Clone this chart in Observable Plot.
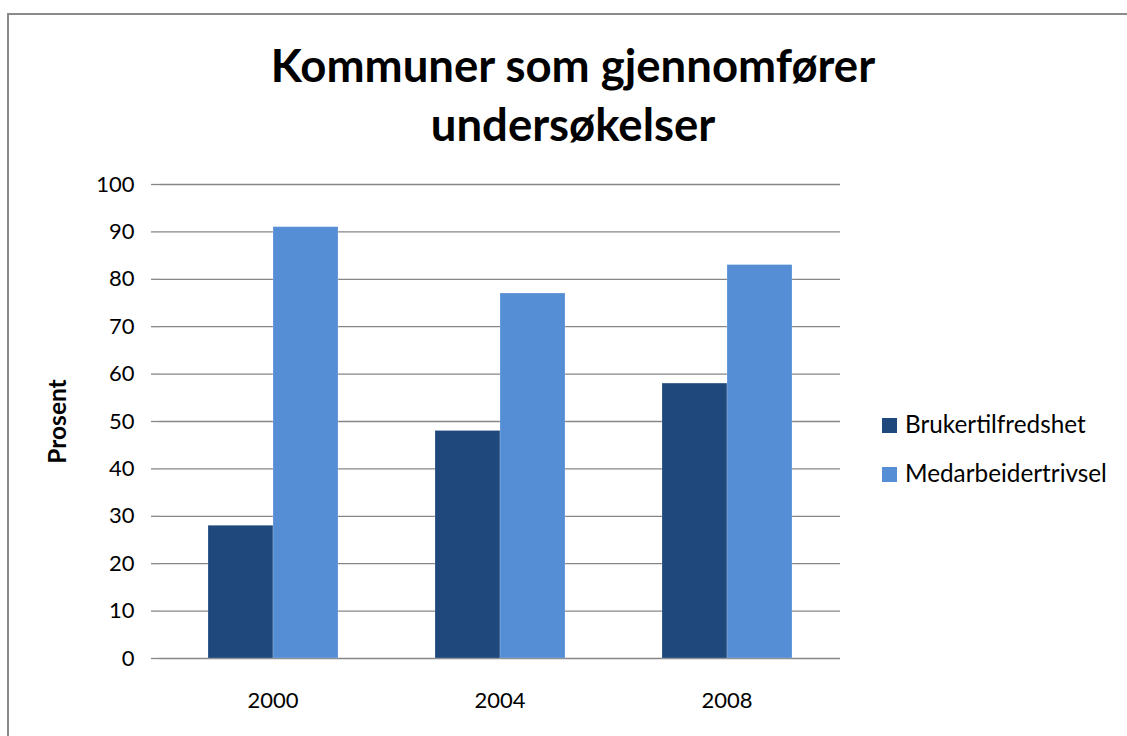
<!DOCTYPE html>
<html>
<head>
<meta charset="utf-8">
<script src="https://cdn.jsdelivr.net/npm/d3@7"></script>
<script src="https://cdn.jsdelivr.net/npm/@observablehq/plot@0.6"></script>
<style>
  html, body { margin: 0; padding: 0; background: #fff; }
  body { width: 1127px; height: 736px; position: relative; overflow: hidden; font-family: "Lato", sans-serif; }
  #frame { position: absolute; left: 7px; top: 13px; width: 1200px; height: 800px; border-left: 2px solid #8a8a8a; border-top: 2px solid #8a8a8a; }
  #title { position: absolute; left: 0; width: 1146px; top: 35px; text-align: center; font-weight: 700; font-size: 45.5px; line-height: 59px; color: #000; }
  #chart { position: absolute; left: 0; top: 160px; }
  #legend { position: absolute; left: 882px; top: 0; }
  .row { position: absolute; left: 0; display: flex; align-items: flex-end; white-space: nowrap; font-size: 24.3px; line-height: 24px; color: #000; }
  .sw { width: 15px; height: 15px; margin-right: 8px; margin-bottom: 3px; }
</style>
</head>
<body>
<div id="frame"></div>
<div id="title">Kommuner som gjennomfører<br>undersøkelser</div>
<div id="chart"></div>
<div id="legend"></div>
<script>
const years = ["2000", "2004", "2008"];
const seriesNames = ["Brukertilfredshet", "Medarbeidertrivsel"];
const brukertilfredshet = [28, 48, 58];
const medarbeidertrivsel = [91, 77, 83];
const yTicks = [0, 10, 20, 30, 40, 50, 60, 70, 80, 90, 100];
const seriesColors = ["#1F497D", "#558ED5"];
const yLabel = "Prosent";

const data = years.flatMap((yr, i) => [
  {year: yr, series: seriesNames[0], value: brukertilfredshet[i]},
  {year: yr, series: seriesNames[1], value: medarbeidertrivsel[i]}
]);

const gridColor = "#868686";

const chart = Plot.plot({
  width: 870,
  height: 568,
  marginLeft: 159,
  marginRight: 30,
  marginTop: 24,
  marginBottom: 70,
  style: {fontFamily: "Lato, sans-serif", fontSize: "22px", color: "#000", background: "transparent", overflow: "visible"},
  fx: {domain: years, padding: 0, label: null},
  x: {domain: seriesNames, paddingInner: 0, paddingOuter: 0.746, axis: null},
  y: {domain: [0, 100], label: null},
  color: {domain: seriesNames, range: seriesColors},
  marks: [
    Plot.gridY(yTicks, {stroke: gridColor, strokeOpacity: 1, strokeWidth: 1.3}),
    Plot.barY(data, {fx: "year", x: "series", y: "value", fill: "series", stroke: "#ffffff", strokeOpacity: 0.2, strokeWidth: 1, inset: 0}),
    Plot.axisY(yTicks, {tickSize: 8, tickPadding: 17, label: null, line: true, stroke: gridColor, strokeWidth: 1.3, fontSize: 22, tickFormat: d => String(d)}),
    Plot.axisFx({anchor: "bottom", tickSize: 0, tickPadding: 34, label: null, fontSize: 22}),
    Plot.text([{year: years[0], t: yLabel}], {fx: "year", text: "t", frameAnchor: "left", textAnchor: "middle", lineAnchor: "middle", rotate: -90, dx: -101, fontWeight: "bold", fontSize: 24.5, fill: "#000"})
  ]
});
document.getElementById("chart").appendChild(chart);

const legend = document.getElementById("legend");
const tops = [412, 461];
seriesNames.forEach((name, i) => {
  const row = document.createElement("div");
  row.className = "row";
  row.style.top = tops[i] + "px";
  const sw = document.createElement("div");
  sw.className = "sw";
  sw.style.background = seriesColors[i];
  const label = document.createElement("span");
  label.textContent = name;
  row.appendChild(sw);
  row.appendChild(label);
  legend.appendChild(row);
});
</script>
</body>
</html>
